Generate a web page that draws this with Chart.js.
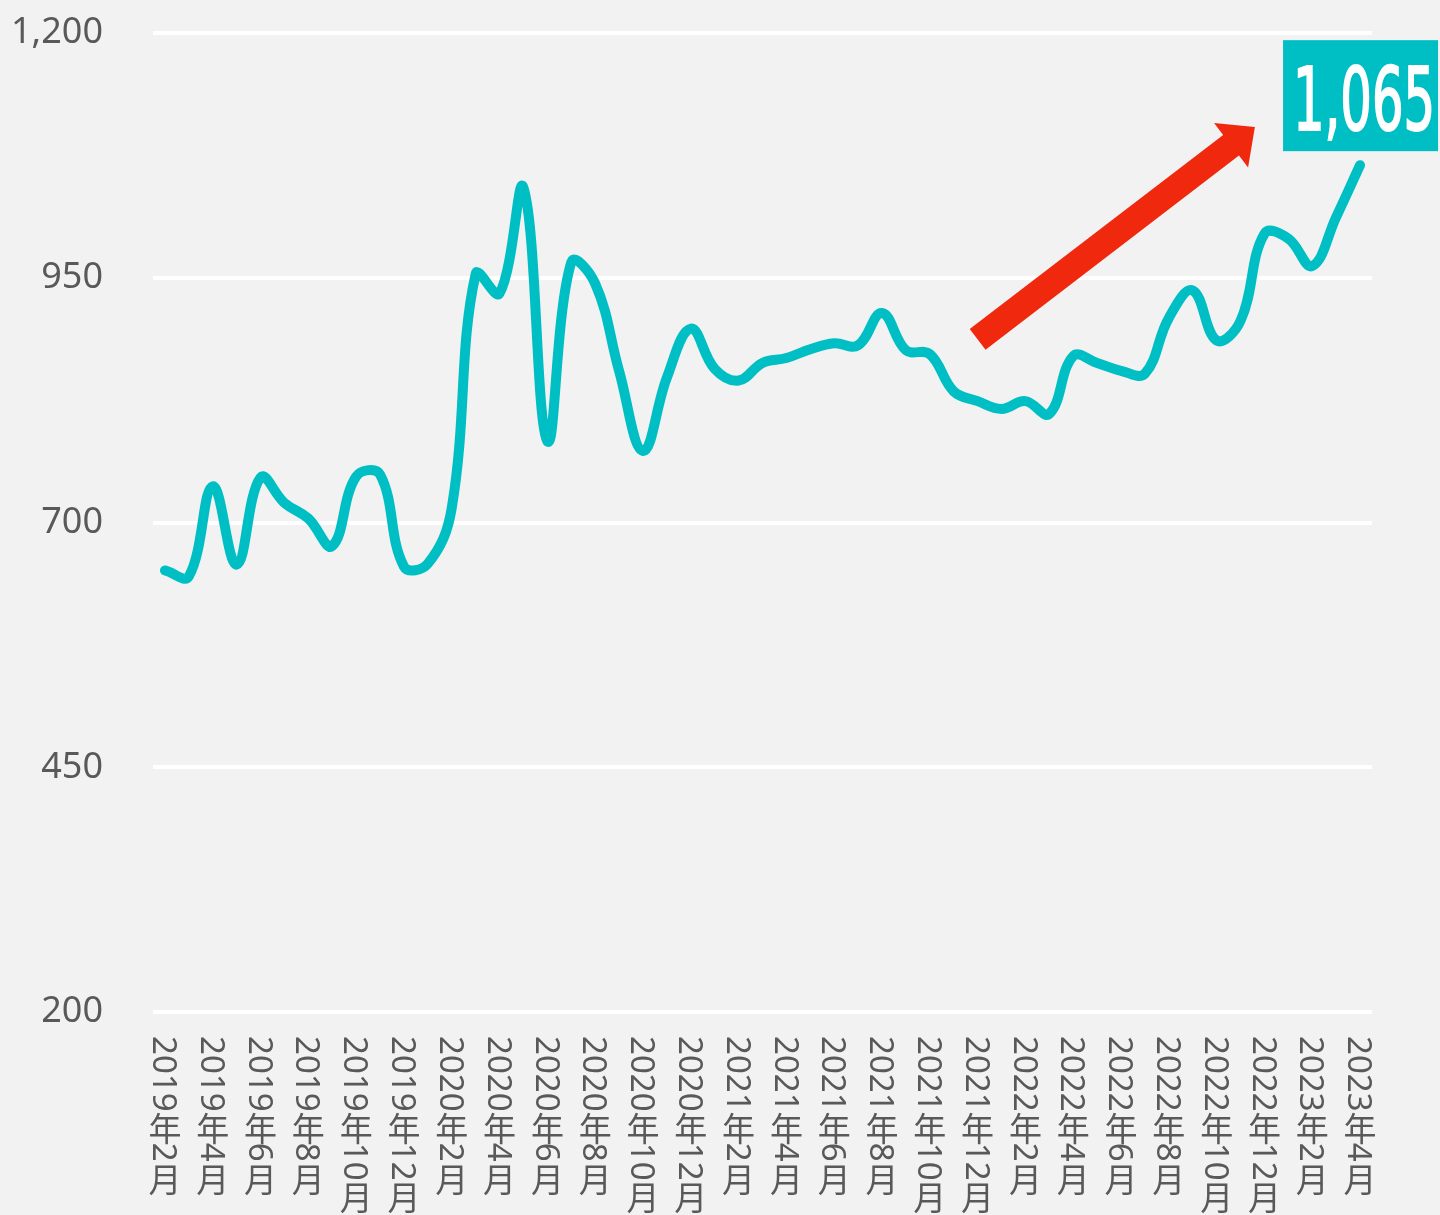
<!DOCTYPE html>
<html>
<head>
<meta charset="utf-8">
<script src="https://cdn.jsdelivr.net/npm/chart.js@4.4.1/dist/chart.umd.min.js"></script>
<style>
  html, body { margin: 0; padding: 0; background: #f2f2f2; }
  #wrap { width: 1440px; height: 1215px; }
</style>
</head>
<body>
<div id="wrap"><canvas id="myChart" width="1440" height="1215"></canvas></div>
<script>
// monthly categories, every other one gets a label
const months = [
  '2019年2月','2019年3月','2019年4月','2019年5月','2019年6月','2019年7月','2019年8月','2019年9月','2019年10月','2019年11月','2019年12月',
  '2020年1月','2020年2月','2020年3月','2020年4月','2020年5月','2020年6月','2020年7月','2020年8月','2020年9月','2020年10月','2020年11月','2020年12月',
  '2021年1月','2021年2月','2021年3月','2021年4月','2021年5月','2021年6月','2021年7月','2021年8月','2021年9月','2021年10月','2021年11月','2021年12月',
  '2022年1月','2022年2月','2022年3月','2022年4月','2022年5月','2022年6月','2022年7月','2022年8月','2022年9月','2022年10月','2022年11月','2022年12月',
  '2023年1月','2023年2月','2023年3月','2023年4月'
];
const prices = [
  651, 645, 737, 657, 746, 720, 704, 676, 747, 749, 655,
  658, 715, 954, 934, 1042, 783, 966, 944, 855, 773, 848, 898,
  857, 845, 863, 868, 877, 883, 881, 914, 876, 872, 834, 824,
  816, 824, 811, 870, 863, 855, 852, 909, 937, 886, 906, 995,
  990, 962, 1012, 1065
];
const yMin = 200;
const yMax = 1200;
const yStep = 250;
const lastLabel = '1,065';

// arrow annotation, in (category index, value) terms
const arrowFrom = [34, 887];
const arrowTo = [45.6, 1104];

const teal = '#00BFC4';
const grey = '#595959';

function drawVertical(ctx, text, x, y, size) {
  let cy = y;
  const parts = text.match(/(\d+|\D)/g);
  parts.forEach(p => {
    if (/\d/.test(p)) {
      const w = ctx.measureText(p).width;
      ctx.save();
      ctx.translate(x, cy);
      ctx.rotate(Math.PI / 2);
      ctx.textAlign = 'left';
      ctx.textBaseline = 'alphabetic';
      ctx.fillText(p, 0, size * 0.36);
      ctx.restore();
      cy += w;
    } else {
      ctx.textAlign = 'center';
      ctx.textBaseline = 'middle';
      ctx.fillText(p, x, cy + size * 0.62);
      cy += size * 0.95;
    }
  });
}

const monthLabels = {
  id: 'monthLabels',
  afterDraw(chart) {
    const ctx = chart.ctx;
    const xs = chart.scales.x;
    const size = 33;
    ctx.save();
    ctx.fillStyle = grey;
    ctx.font = size + 'px "Noto Sans", "Noto Sans CJK SC", sans-serif';
    months.forEach((m, i) => {
      if (i % 2) return;
      drawVertical(ctx, m, xs.getPixelForValue(i), chart.chartArea.bottom + 24, size);
    });
    ctx.restore();
  }
};

const arrowAndTag = {
  id: 'arrowAndTag',
  afterDraw(chart) {
    const ctx = chart.ctx;
    const xs = chart.scales.x, ys = chart.scales.y;

    // red arrow
    const tx = xs.getPixelForValue(arrowFrom[0]), ty = ys.getPixelForValue(arrowFrom[1]);
    const px = xs.getPixelForValue(arrowTo[0]), py = ys.getPixelForValue(arrowTo[1]);
    const len = Math.hypot(px - tx, py - ty);
    const ux = (px - tx) / len, uy = (py - ty) / len;
    const nx = -uy, ny = ux;
    const shaft = 13, headLen = 30, headHalf = 28;
    const bx = px - ux * headLen, by = py - uy * headLen;
    ctx.save();
    ctx.fillStyle = '#F0290E';
    ctx.beginPath();
    ctx.moveTo(tx + nx * shaft, ty + ny * shaft);
    ctx.lineTo(bx + nx * shaft, by + ny * shaft);
    ctx.lineTo(bx + nx * headHalf, by + ny * headHalf);
    ctx.lineTo(px, py);
    ctx.lineTo(bx - nx * headHalf, by - ny * headHalf);
    ctx.lineTo(bx - nx * shaft, by - ny * shaft);
    ctx.lineTo(tx - nx * shaft, ty - ny * shaft);
    ctx.closePath();
    ctx.fill();

    // value tag on the last point
    const meta = chart.getDatasetMeta(0);
    const pt = meta.data[meta.data.length - 1];
    const left = pt.x - 77, top = pt.y - 125, w = 155, h = 111;
    ctx.fillStyle = teal;
    ctx.fillRect(left, top, w, h);
    ctx.fillStyle = '#ffffff';
    ctx.strokeStyle = '#ffffff';
    ctx.lineWidth = 2;
    ctx.font = '88px "Liberation Sans Narrow", "DejaVu Sans Condensed", sans-serif';
    ctx.textAlign = 'left';
    ctx.textBaseline = 'alphabetic';
    const tw = ctx.measureText(lastLabel).width;
    const target = 142;
    ctx.translate(left + 10, top + 90);
    ctx.scale(target / tw, 1);
    ctx.fillText(lastLabel, 0, 0);
    ctx.strokeText(lastLabel, 0, 0);
    ctx.restore();
  }
};

new Chart(document.getElementById('myChart'), {
  type: 'line',
  data: {
    labels: months,
    datasets: [{
      data: prices,
      borderColor: teal,
      borderWidth: 10,
      pointRadius: 0,
      tension: 0.4,
      borderCapStyle: 'round',
      borderJoinStyle: 'round',
      fill: false
    }]
  },
  options: {
    responsive: false,
    animation: false,
    devicePixelRatio: 1,
    layout: { padding: { top: 33, right: 68, bottom: 203, left: 0 } },
    plugins: { legend: { display: false }, tooltip: { enabled: false } },
    scales: {
      x: {
        offset: true,
        grid: { display: false, drawTicks: false },
        border: { display: false },
        ticks: { display: false }
      },
      y: {
        min: yMin,
        max: yMax,
        ticks: {
          stepSize: yStep,
          padding: 0,
          color: grey,
          font: { family: '"Noto Sans", sans-serif', size: 36 }
        },
        grid: { color: '#ffffff', lineWidth: 4, drawTicks: true, tickLength: 50, tickColor: 'rgba(0,0,0,0)' },
        border: { display: false },
        afterFit(scale) { scale.width = 153; }
      }
    }
  },
  plugins: [monthLabels, arrowAndTag]
});
</script>
</body>
</html>
